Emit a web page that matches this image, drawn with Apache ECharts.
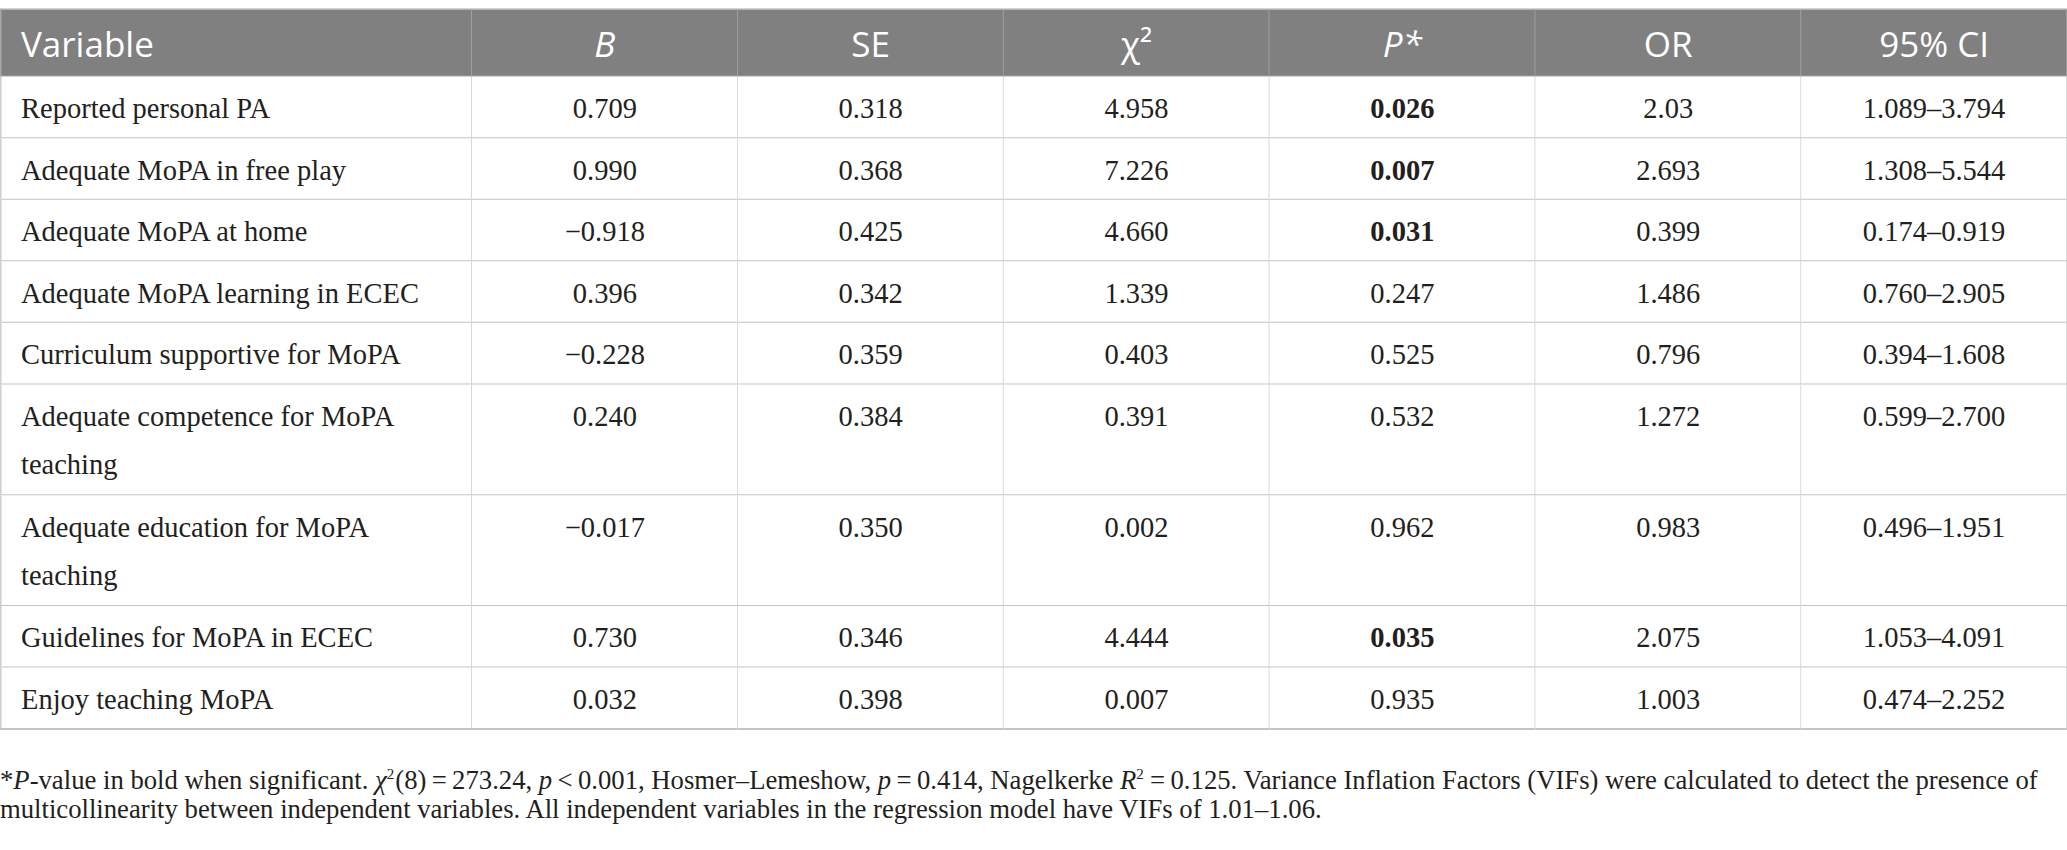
<!DOCTYPE html>
<html>
<head>
<meta charset="utf-8">
<title>Logistic regression table</title>
<script src="https://cdn.jsdelivr.net/npm/echarts@6/dist/echarts.min.js"></script>
<style>
    html, body { margin: 0; padding: 0; background: #fff; }
    #myChart { width: 2067px; height: 850px; }
</style>
</head>
<body>
<div id="myChart"></div>
<script>
//表头
var headers = ['Variable', '{it|B}', 'SE', 'χ²', '{it|P*}', 'OR', '95% CI'];

//变量名（换行与原表一致）
var variables = [
    'Reported personal PA',
    'Adequate MoPA in free play',
    'Adequate MoPA at home',
    'Adequate MoPA learning in ECEC',
    'Curriculum supportive for MoPA',
    'Adequate competence for MoPA\nteaching',
    'Adequate education for MoPA\nteaching',
    'Guidelines for MoPA in ECEC',
    'Enjoy teaching MoPA'
];
var bValues = ['0.709', '0.990', '−0.918', '0.396', '−0.228', '0.240', '−0.017', '0.730', '0.032'];
var seValues = ['0.318', '0.368', '0.425', '0.342', '0.359', '0.384', '0.350', '0.346', '0.398'];
var chiValues = ['4.958', '7.226', '4.660', '1.339', '0.403', '0.391', '0.002', '4.444', '0.007'];
var pValues = ['0.026', '0.007', '0.031', '0.247', '0.525', '0.532', '0.962', '0.035', '0.935'];
var orValues = ['2.03', '2.693', '0.399', '1.486', '0.796', '1.272', '0.983', '2.075', '1.003'];
var ciValues = ['1.089–3.794', '1.308–5.544', '0.174–0.919', '0.760–2.905', '0.394–1.608',
    '0.599–2.700', '0.496–1.951', '1.053–4.091', '0.474–2.252'];

//脚注
var noteLines = [
    '*{it|P}-value in bold when significant. {it|χ}{sup|2}(8)\u2009=\u2009273.24, {it|p}\u2009<\u20090.001, Hosmer–Lemeshow, {it|p}\u2009=\u20090.414, Nagelkerke {it|R}{sup|2}\u2009=\u20090.125. Variance Inflation Factors (VIFs) were calculated to detect the presence of',
    'multicollinearity between independent variables. All independent variables in the regression model have VIFs of 1.01–1.06.'
];

var SIG_LEVEL = 0.05;

//列宽（以数值列宽为单位），行高（以单行为单位）
var colSpan = [1.775, 1, 1, 1, 1, 1, 1];
var HEADER_SPAN = 1.1;
var LINE_SPAN = 0.8;

var columns = [variables, bValues, seValues, chiValues, pValues, orValues, ciValues];

function cumulative(spans) {
    var edges = [0];
    for (var i = 0; i < spans.length; i++) {
        edges.push(edges[i] + spans[i]);
    }
    return edges;
}

//行高由变量名的行数决定
function getRowSpans() {
    var spans = [HEADER_SPAN];
    for (var i = 0; i < variables.length; i++) {
        var lines = variables[i].split('\n').length;
        spans.push(1 + LINE_SPAN * (lines - 1));
    }
    return spans;
}

var colEdges = cumulative(colSpan);
var rowEdges = cumulative(getRowSpans());

//单元格数据 [列, 行]
function getCellData() {
    var data = [];
    for (var r = 0; r <= variables.length; r++) {
        for (var c = 0; c < columns.length; c++) {
            data.push([c, r]);
        }
    }
    return data;
}

var serif = '"Liberation Serif", "Times New Roman", serif';
var sans = '"Open Sans", "Noto Sans", sans-serif';

function renderCell(params, api) {
    var c = api.value(0);
    var r = api.value(1);
    var p0 = api.coord([colEdges[c], rowEdges[r]]);
    var p1 = api.coord([colEdges[c + 1], rowEdges[r + 1]]);
    var x = p0[0], y = p0[1], w = p1[0] - p0[0], h = p1[1] - p0[1];
    var isHeader = r === 0;
    var children = [];

    //背景
    children.push({
        type: 'rect',
        shape: { x: x, y: y, width: w, height: h },
        style: { fill: isHeader ? '#808080' : '#ffffff', stroke: null }
    });
    //横线
    children.push({
        type: 'line',
        shape: { x1: x, y1: y + h, x2: x + w, y2: y + h },
        style: { stroke: '#c4c4c4', lineWidth: 2 }
    });
    if (isHeader) {
        children.push({
            type: 'line',
            shape: { x1: x, y1: y, x2: x + w, y2: y },
            style: { stroke: '#c4c4c4', lineWidth: 1.5 }
        });
    }
    //竖线
    children.push({
        type: 'line',
        shape: { x1: x + w, y1: y, x2: x + w, y2: y + h },
        style: { stroke: isHeader ? '#a8a8a8' : '#cdcdcd', lineWidth: 1.5 }
    });
    if (c === 0) {
        children.push({
            type: 'line',
            shape: { x1: x + 0.75, y1: y, x2: x + 0.75, y2: y + h },
            style: { stroke: isHeader ? '#a8a8a8' : '#cdcdcd', lineWidth: 1.5 }
        });
    }

    var tx = c === 0 ? x + 21 : x + w / 2;
    var align = c === 0 ? 'left' : 'center';
    if (isHeader) {
        children.push({
            type: 'text',
            style: {
                text: headers[c],
                x: tx,
                y: y + h / 2 + 1,
                align: align,
                verticalAlign: 'middle',
                fill: '#ffffff',
                font: '35px ' + sans,
                rich: {
                    it: { fontStyle: 'italic', fontSize: 35, fontFamily: sans, fill: '#ffffff' }
                }
            }
        });
    } else {
        var i = r - 1;
        var text = columns[c][i];
        var bold = c === 4 && parseFloat(text) < SIG_LEVEL;
        children.push({
            type: 'text',
            style: {
                text: text,
                x: tx,
                y: y + 8,
                align: align,
                verticalAlign: 'top',
                lineHeight: 48,
                fill: '#231f20',
                font: (bold ? 'bold ' : '') + '28.5px ' + serif
            }
        });
    }
    return { type: 'group', children: children };
}

//初始化myChart
function initECharts() {
    var noteRich = {
        it: { fontStyle: 'italic', fontSize: 26.7, fontFamily: serif, color: '#231f20' },
        sup: { fontSize: 15, fontFamily: serif, color: '#231f20', verticalAlign: 'top', padding: [0, 1, 10, 0] }
    };
    var option = {
        animation: false,
        title: noteLines.map(function (line, k) {
            return {
                text: line,
                left: 0,
                top: 766 + k * 29,
                padding: 0,
                textStyle: {
                    fontFamily: serif,
                    fontSize: 26.7,
                    fontWeight: 'normal',
                    color: '#231f20',
                    rich: noteRich
                }
            };
        }),
        grid: {
            left: 0,
            right: 0,
            top: 9,
            height: 720
        },
        xAxis: {
            type: 'value',
            min: 0,
            max: colEdges[colEdges.length - 1],
            show: false
        },
        yAxis: {
            type: 'value',
            min: 0,
            max: rowEdges[rowEdges.length - 1],
            inverse: true,
            show: false
        },
        series: [{
            type: 'custom',
            renderItem: renderCell,
            data: getCellData(),
            clip: false,
            silent: true
        }]
    };
    var myChart = echarts.init(document.getElementById('myChart'), null, { renderer: 'svg' });
    myChart.setOption(option);
}

initECharts();
</script>
</body>
</html>
